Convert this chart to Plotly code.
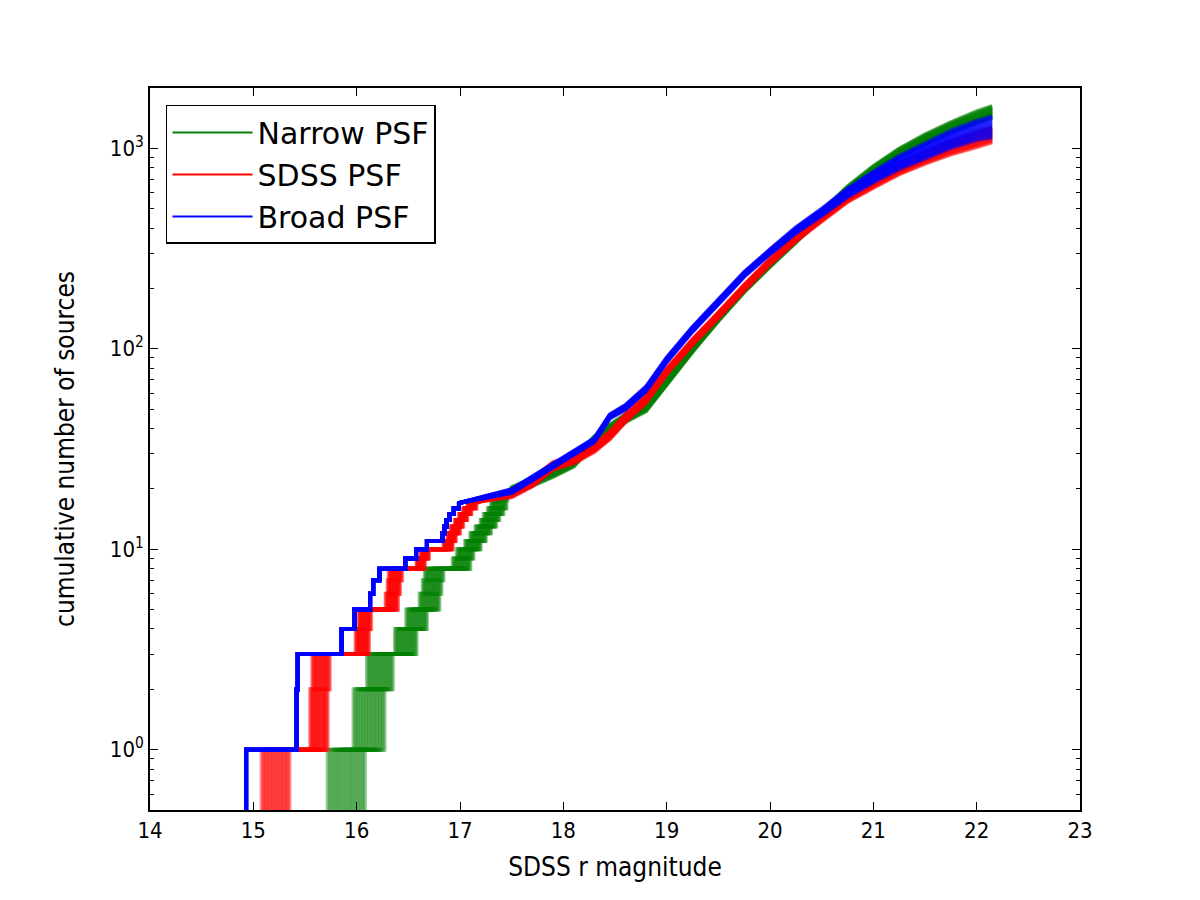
import plotly.graph_objects as go
import numpy as np

# ---------------- data ----------------
step_counts = [1, 2, 3, 4, 5, 6, 7, 8, 9, 10, 11, 12, 13, 14, 15, 16, 17]

# bright end: left / right edge of the band of realisations for each step (magnitude)
green_step_lo = [15.72, 15.97, 16.10, 16.37, 16.48, 16.61, 16.64, 16.66, 16.93, 16.97, 17.05, 17.10, 17.15, 17.20, 17.23, 17.27, 17.30]
green_step_hi = [16.08, 16.27, 16.35, 16.58, 16.68, 16.80, 16.82, 16.84, 17.10, 17.13, 17.20, 17.25, 17.30, 17.35, 17.38, 17.42, 17.45]
red_step_lo = [15.08, 15.55, 15.57, 15.99, 16.02, 16.28, 16.30, 16.31, 16.58, 16.62, 16.84, 16.88, 16.91, 16.95, 16.99, 17.03, 17.07]
red_step_hi = [15.35, 15.72, 15.74, 16.12, 16.14, 16.40, 16.42, 16.44, 16.66, 16.70, 16.93, 16.96, 17.00, 17.03, 17.07, 17.11, 17.16]
blue_step_lo = [14.93, 15.42, 15.43, 15.855, 15.98, 16.13, 16.16, 16.22, 16.47, 16.575, 16.68, 16.83, 16.85, 16.87, 16.90, 16.94, 16.99]
blue_step_hi = [14.93, 15.42, 15.43, 15.855, 15.98, 16.13, 16.16, 16.22, 16.47, 16.575, 16.68, 16.83, 16.85, 16.87, 16.90, 16.94, 16.99]

# faint end: smooth cumulative counts (band centre) and half-width of the band (dex)
curve_mag = [17.5, 17.7, 17.9, 18.1, 18.3, 18.45, 18.6, 18.8, 19.0, 19.25, 19.5, 19.75,
             20.0, 20.25, 20.5, 20.75, 21.0, 21.25, 21.5, 21.75, 22.0, 22.15]
green_mid = [19.5, 21.5, 24, 27, 35, 40, 45, 51, 68, 100, 142, 198,
             265, 350, 470, 620, 780, 950, 1110, 1270, 1430, 1520]
red_mid = [19, 21.5, 26, 28, 32, 37, 45, 56, 77, 108, 147, 202,
           272, 355, 450, 565, 670, 790, 900, 1010, 1110, 1170]
blue_mid = [19.5, 22.5, 26, 30, 35, 46, 51, 63, 88, 125, 172, 235,
            305, 390, 480, 600, 720, 850, 970, 1110, 1230, 1280]
green_spread = [0.02, 0.02, 0.02, 0.02, 0.02, 0.02, 0.02, 0.02, 0.015, 0.015, 0.015, 0.015,
                0.015, 0.015, 0.015, 0.018, 0.02, 0.022, 0.025, 0.027, 0.03, 0.03]
red_spread = [0.02, 0.02, 0.02, 0.02, 0.02, 0.02, 0.02, 0.02, 0.015, 0.015, 0.015, 0.015,
              0.015, 0.015, 0.018, 0.02, 0.024, 0.028, 0.032, 0.036, 0.04, 0.04]
blue_spread = [0.01, 0.01, 0.01, 0.01, 0.01, 0.01, 0.012, 0.012, 0.012, 0.012, 0.012, 0.012,
               0.012, 0.015, 0.018, 0.022, 0.028, 0.034, 0.04, 0.045, 0.05, 0.055]

# position of each drawn realisation inside the band (-1 = one edge, +1 = other edge)
realisations = [-1.0, -0.9, -0.8, -0.7, -0.6, -0.5, -0.4, -0.3, -0.2, -0.1, 0.0,
                0.1, 0.2, 0.3, 0.4, 0.5, 0.6, 0.7, 0.8, 0.9, 1.0]

y_major = [1, 10, 100, 1000]
y_major_text = ["10<sup>0</sup>", "10<sup>1</sup>", "10<sup>2</sup>", "10<sup>3</sup>"]
y_minor = [0.5, 0.6, 0.7, 0.8, 0.9, 2, 3, 4, 5, 6, 7, 8, 9, 20, 30, 40, 50, 60, 70, 80, 90,
           200, 300, 400, 500, 600, 700, 800, 900, 2000]

series = [
    ("Narrow PSF", "#008000", green_step_lo, green_step_hi, green_mid, green_spread),
    ("SDSS PSF", "#ff0000", red_step_lo, red_step_hi, red_mid, red_spread),
    ("Broad PSF", "#0000ff", blue_step_lo, blue_step_hi, blue_mid, blue_spread),
]

fig = go.Figure()
for name, color, lo, hi, mid, spread in series:
    lo = np.array(lo); hi = np.array(hi)
    mid = np.array(mid, dtype=float); spread = np.array(spread)
    for j, f in enumerate(realisations):
        mags = lo + (f + 1) / 2 * (hi - lo)
        xs, ys = [], []
        prev = 0.3
        for m, c in zip(mags, step_counts):
            xs += [m, m]
            ys += [prev, c]
            prev = c
        counts = mid * 10 ** (f * spread)
        xs += list(curve_mag)
        ys += list(counts)
        fig.add_trace(go.Scatter(
            x=xs, y=ys, mode="lines", name=name,
            line=dict(color=color, width=4),
            opacity=0.4,
            legendgroup=name, showlegend=False, hoverinfo="skip",
        ))
    # legend entry
    fig.add_trace(go.Scatter(
        x=[None], y=[None], mode="lines", name=name,
        line=dict(color=color, width=2), legendgroup=name, showlegend=True,
    ))

# invisible trace on the overlay axis that carries the minor ticks
fig.add_trace(go.Scatter(x=[None], y=[None], yaxis="y2", showlegend=False, hoverinfo="skip"))

tickfont = dict(family="DejaVu Sans Condensed, DejaVu Sans", size=22, color="black")
titlefont = dict(family="DejaVu Sans Condensed, DejaVu Sans", size=26, color="black")
yrange = [np.log10(0.5), np.log10(2000)]
fig.update_layout(
    width=1200, height=900,
    paper_bgcolor="white", plot_bgcolor="white",
    margin=dict(l=150, r=120, t=88, b=90),
    showlegend=True,
    legend=dict(
        x=0.0172, y=0.9765, xanchor="left", yanchor="top",
        bgcolor="white", bordercolor="black", borderwidth=1.5,
        font=dict(family="DejaVu Sans", size=30, color="black"),
        itemwidth=80, tracegroupgap=0,
    ),
    xaxis=dict(
        range=[14, 23], dtick=1, tick0=14,
        showgrid=False, zeroline=False,
        showline=True, linecolor="black", linewidth=1.5, mirror="ticks",
        ticks="inside", ticklen=8, tickcolor="black",
        tickfont=tickfont,
        title=dict(text="SDSS r magnitude", font=titlefont, standoff=16),
    ),
    yaxis=dict(
        type="log", range=yrange,
        tickvals=y_major, ticktext=y_major_text,
        showgrid=False, zeroline=False,
        showline=True, linecolor="black", linewidth=1.5, mirror="ticks",
        ticks="inside", ticklen=8, tickcolor="black",
        tickfont=tickfont,
        title=dict(text="cumulative number of sources", font=titlefont, standoff=28),
    ),
    yaxis2=dict(
        type="log", range=yrange, overlaying="y", side="left",
        tickvals=y_minor, showticklabels=False,
        showgrid=False, zeroline=False, showline=False, mirror="ticks",
        ticks="inside", ticklen=4, tickcolor="black",
    ),
)

fig.write_html("out.html")
